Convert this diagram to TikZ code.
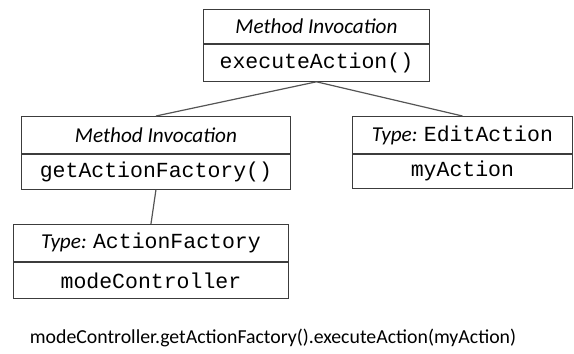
\documentclass[tikz,border=0pt]{standalone}
\usepackage{fontspec}
\setmainfont{Carlito}
\setmonofont{Liberation Mono}
\usetikzlibrary{positioning}
\definecolor{boxline}{RGB}{60,60,60}
\definecolor{linkgray}{RGB}{85,85,85}
\newcommand{\lbl}{\fontsize{21.2}{24}\selectfont}
\newcommand{\code}[1]{{\ttfamily\fontsize{21.5}{24}\selectfont #1}}

\begin{document}
\begin{tikzpicture}[
  x=1pt, y=-1pt,
  every node/.style={font=\lbl, inner sep=0pt},
  part/.style={draw=boxline, line width=0.9pt, align=center},
  link/.style={draw=linkgray, line width=1.2pt}
]
\useasboundingbox (0,0) rectangle (574,354);
% invocation executeAction()
\node[part, anchor=north west, minimum width=226pt, minimum height=34pt] (execHead) at (203,9) {\textit{Method Invocation}};
\node[part, minimum width=226pt, minimum height=37pt, below=0pt of execHead] (execBody) {\code{executeAction()}};
% invocation getActionFactory()
\node[part, anchor=north west, minimum width=269pt, minimum height=37pt] (factHead) at (21,116) {\textit{Method Invocation}};
\node[part, minimum width=269pt, minimum height=35pt, below=0pt of factHead] (factBody) {\code{getActionFactory()}};
% argument myAction
\node[part, anchor=north west, minimum width=220pt, minimum height=37pt] (argHead) at (352,116) {\textit{Type:} \code{EditAction}};
\node[part, minimum width=220pt, minimum height=34pt, below=0pt of argHead] (argBody) {\code{myAction}};
% receiver modeController
\node[part, anchor=north west, minimum width=275pt, minimum height=37pt] (recvHead) at (13,224) {\textit{Type:} \code{ActionFactory}};
\node[part, minimum width=275pt, minimum height=36pt, below=0pt of recvHead] (recvBody) {\code{modeController}};

\draw[link] (execBody.south) -- (factHead.north);
\draw[link] (execBody.south) -- (argHead.north);
\draw[link] (factBody.south) -- (recvHead.north);

\node[font=\fontsize{19.8}{23}\selectfont] (expr) at (273,338) {modeController.getActionFactory().executeAction(myAction)};
\end{tikzpicture}
\end{document}
